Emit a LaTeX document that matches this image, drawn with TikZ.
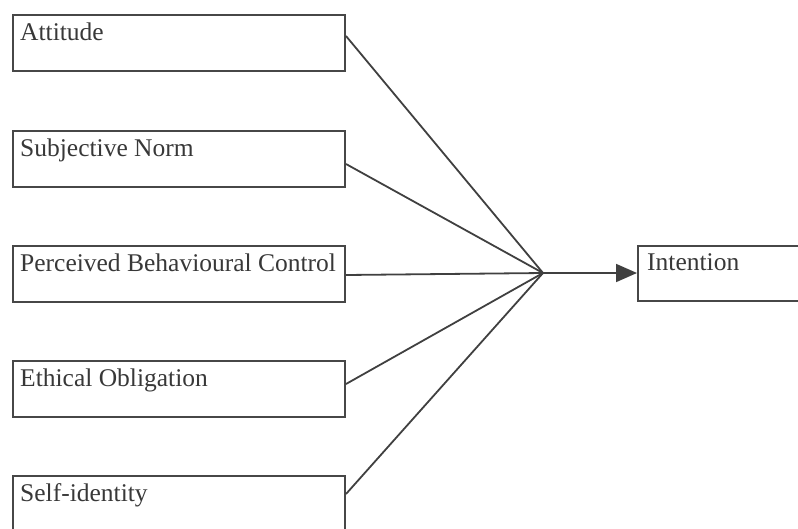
\documentclass[tikz,border=0pt]{standalone}
\usepackage{fontspec}
\setmainfont{Liberation Serif}
\usetikzlibrary{arrows.meta}
\begin{document}
\begin{tikzpicture}[x=1pt,y=-1pt,
  box/.style={draw=black!72,line width=2pt,rectangle,minimum width=332pt,minimum height=56pt,anchor=north west,inner sep=0pt},
  lbl/.style={anchor=base west,inner sep=0pt,text=black!78,font=\fontsize{25.5}{29}\selectfont},
  conn/.style={draw=black!75,line width=1.8pt}]
\useasboundingbox (0,0) rectangle (798,528);
\clip (0,0) rectangle (798,528);
\node[box] (att) at (12,14) {};
\node[box] (sub) at (12,130) {};
\node[box] (pbc) at (12,245) {};
\node[box] (eth) at (12,360) {};
\node[box] (sid) at (12,475) {};
\node[box,minimum width=200pt,minimum height=55pt] (int) at (637,245) {};
\node[lbl] (tatt) at (20,40) {Attitude};
\node[lbl] (tsub) at (20,156) {Subjective Norm};
\node[lbl] (tpbc) at (20,271) {Perceived Behavioural Control};
\node[lbl] (teth) at (20,386) {Ethical Obligation};
\node[lbl] (tsid) at (20,501) {Self-identity};
\node[lbl] (tint) at (647,270) {Intention};
\coordinate (j) at (543,273);
\draw[conn] ([yshift=7pt]att.east) -- (j);
\draw[conn] ([yshift=-5pt]sub.east) -- (j);
\draw[conn] ([yshift=-1pt]pbc.east) -- (j);
\draw[conn] ([yshift=5pt]eth.east) -- (j);
\draw[conn] ([yshift=10pt]sid.east) -- (j);
\draw[conn,-{Triangle[length=21pt,width=18pt]}] (j) -- (int.west |- j);
\end{tikzpicture}
\end{document}
